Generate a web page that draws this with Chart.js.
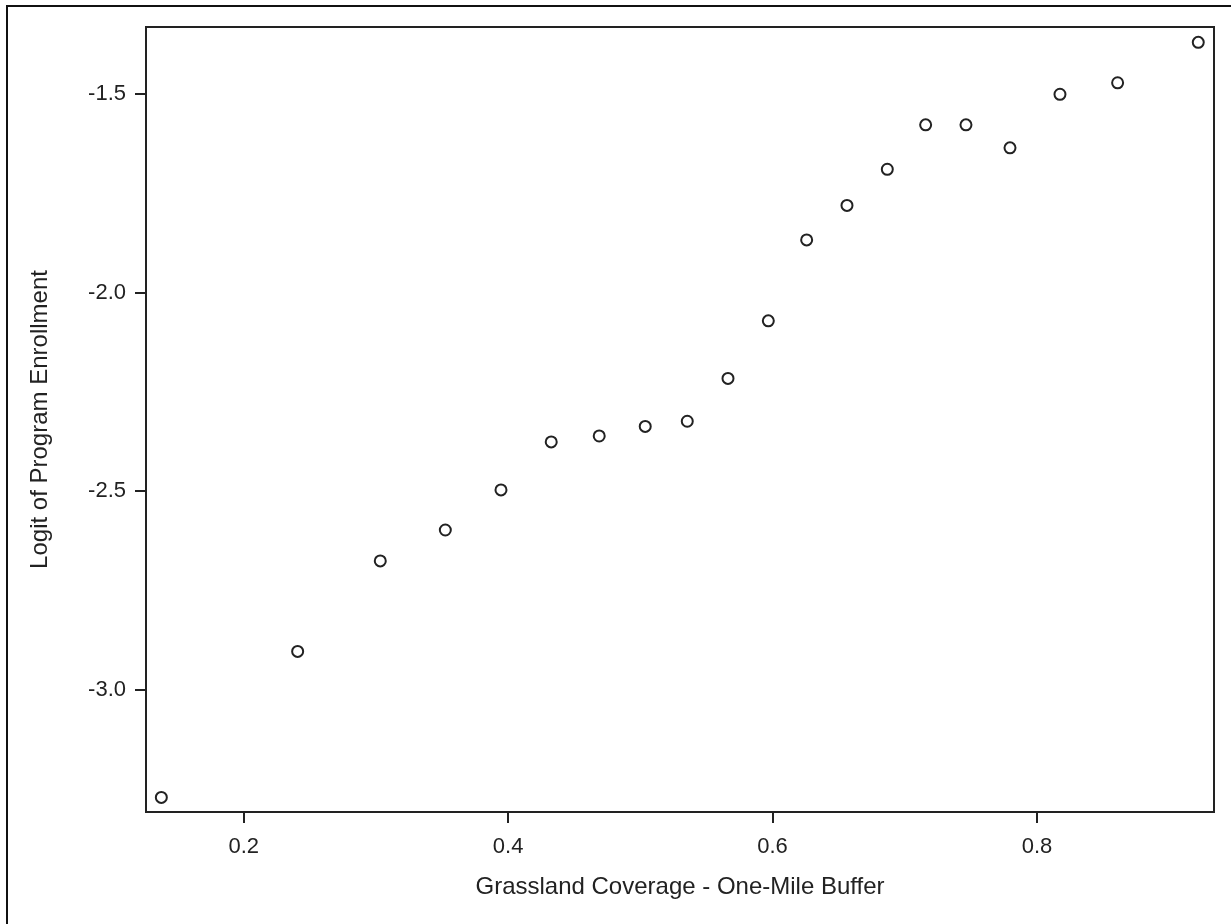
<!DOCTYPE html>
<html>
<head>
  <title>Logit of Program Enrollment</title>
  <script src="https://cdn.jsdelivr.net/npm/chart.js"></script>
  <style>
    html, body {
        margin: 0;
        padding: 0;
        background: #fff;
        overflow: hidden;
    }
    #chartContainer {
        width: 1231px;
        height: 924px;
    }
</style>
</head>
<body>
    <div id="chartContainer">
        <canvas id="myChart" width="1231" height="924"></canvas>
    </div>

  <script>
    // grassland coverage (x) vs logit of enrollment (y)
    const coverage = [0.1377, 0.2408, 0.3033, 0.3525, 0.3946, 0.4326, 0.4689, 0.5037, 0.5355, 0.5663,
                      0.5968, 0.6258, 0.6563, 0.6868, 0.7158, 0.7463, 0.7796, 0.8174, 0.8610, 0.9220];
    const logitValues = [-3.272, -2.904, -2.676, -2.598, -2.497, -2.376, -2.361, -2.337, -2.324, -2.216,
                         -2.071, -1.867, -1.780, -1.689, -1.577, -1.577, -1.635, -1.500, -1.471, -1.369];

    const xTicks = [0.2, 0.4, 0.6, 0.8];
    const yTicks = [-1.5, -2.0, -2.5, -3.0];

    const points = coverage.map((x, i) => ({ x: x, y: logitValues[i] }));

    const ink = '#222';

    // box around the plot area plus the page border
    const framePlugin = {
        id: 'frame',
        afterDraw(chart) {
            const { ctx, chartArea } = chart;
            ctx.save();
            ctx.strokeStyle = ink;
            ctx.lineWidth = 2;
            ctx.strokeRect(chartArea.left, chartArea.top,
                           chartArea.right - chartArea.left, chartArea.bottom - chartArea.top);
            ctx.fillStyle = '#111';
            ctx.fillRect(6, 5, 2, chart.height);
            ctx.fillRect(6, 5, chart.width, 2);
            ctx.restore();
        }
    };

    const ctx = document.getElementById('myChart').getContext('2d');
    const myChart = new Chart(ctx, {
        type: 'scatter',
        data: {
            datasets: [{
                label: 'logit',
                data: points,
                pointStyle: 'circle',
                pointRadius: 5.5,
                pointHoverRadius: 5.5,
                borderWidth: 2,
                borderColor: ink,
                backgroundColor: 'rgba(255,255,255,0)',
                showLine: false
            }]
        },
        options: {
            responsive: false,
            devicePixelRatio: 1,
            animation: false,
            layout: {
                padding: { top: 27, right: 17, left: 0, bottom: 0 }
            },
            plugins: {
                legend: { display: false },
                tooltip: { enabled: false }
            },
            scales: {
                x: {
                    type: 'linear',
                    position: 'bottom',
                    min: 0.1261,
                    max: 0.9339,
                    afterBuildTicks: (scale) => { scale.ticks = xTicks.map(v => ({ value: v })); },
                    afterFit: (scale) => { scale.height = 112; },
                    border: { display: false },
                    grid: {
                        drawOnChartArea: false,
                        drawTicks: true,
                        tickLength: 11,
                        tickColor: ink,
                        lineWidth: 2
                    },
                    ticks: {
                        color: ink,
                        padding: 11,
                        maxRotation: 0,
                        font: { family: '"Liberation Sans", Arial, sans-serif', size: 22 },
                        callback: (v) => Number(v).toFixed(1)
                    },
                    title: {
                        display: true,
                        text: 'Grassland Coverage - One-Mile Buffer',
                        color: ink,
                        padding: { top: 0, bottom: 22 },
                        font: { family: '"Liberation Sans", Arial, sans-serif', size: 24 }
                    }
                },
                y: {
                    type: 'linear',
                    min: -3.3087,
                    max: -1.3304,
                    afterBuildTicks: (scale) => { scale.ticks = yTicks.map(v => ({ value: v })); },
                    afterFit: (scale) => { scale.width = 146; },
                    border: { display: false },
                    grid: {
                        drawOnChartArea: false,
                        drawTicks: true,
                        tickLength: 11,
                        tickColor: ink,
                        lineWidth: 2
                    },
                    ticks: {
                        color: ink,
                        padding: 9,
                        font: { family: '"Liberation Sans", Arial, sans-serif', size: 22 },
                        callback: (v) => Number(v).toFixed(1)
                    },
                    title: {
                        display: true,
                        text: 'Logit of Program Enrollment',
                        color: ink,
                        padding: { top: 26, bottom: 0 },
                        font: { family: '"Liberation Sans", Arial, sans-serif', size: 24 }
                    }
                }
            }
        },
        plugins: [framePlugin]
    });
  </script>
</body>
</html>
